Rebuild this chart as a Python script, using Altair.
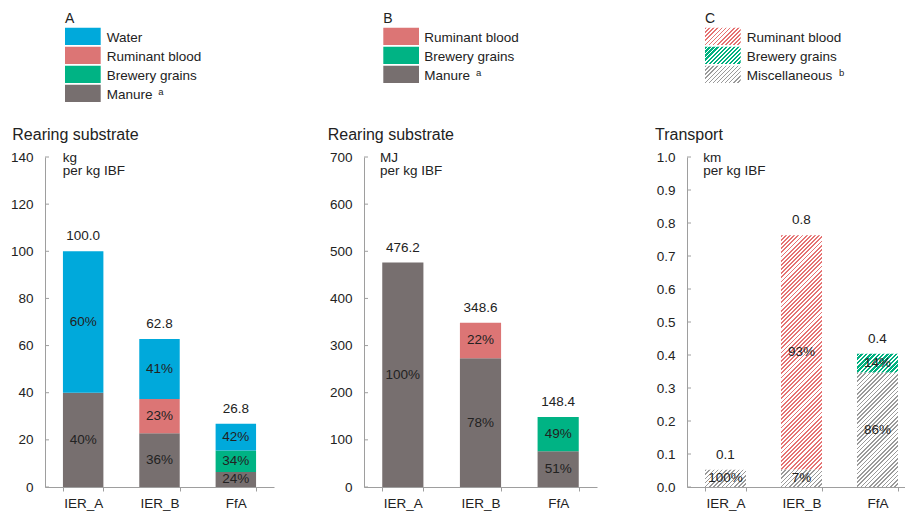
import altair as alt
import pandas as pd

# ---- data -------------------------------------------------------------
systems = ["IER_A", "IER_B", "FfA"]

# A: rearing substrate, kg per kg IBF (stack order bottom -> top)
a_manure = [40.0, 22.8, 6.4]
a_blood = [0.0, 14.5, 0.0]
a_grains = [0.0, 0.0, 9.1]
a_water = [60.0, 25.5, 11.3]
a_ticks = [0, 20, 40, 60, 80, 100, 120, 140]

# B: rearing substrate, MJ per kg IBF
b_manure = [476.2, 273.0, 75.7]
b_blood = [0.0, 75.6, 0.0]
b_grains = [0.0, 0.0, 72.7]
b_ticks = [0, 100, 200, 300, 400, 500, 600, 700]

# C: transport, km per kg IBF
c_misc = [0.052, 0.053, 0.347]
c_blood = [0.0, 0.710, 0.0]
c_grains = [0.0, 0.0, 0.057]
c_ticks = [0.0, 0.1, 0.2, 0.3, 0.4, 0.5, 0.6, 0.7, 0.8, 0.9, 1.0]

legend_a = ["Water", "Ruminant blood", "Brewery grains", "Manure"]
legend_b = ["Ruminant blood", "Brewery grains", "Manure"]
legend_c = ["Ruminant blood", "Brewery grains", "Miscellaneous"]

# ---- style ------------------------------------------------------------
FONT = "Liberation Sans"
INK = "#222222"
AXIS_GREY = "#9E9E9E"
SOLID = {"Water": "#00A9DB", "Ruminant blood": "#DC7575",
         "Brewery grains": "#00B384", "Manure": "#776F6F"}
HATCH = {"Ruminant blood": ("#E57373", 0.45), "Brewery grains": ("#00B07F", 0.6),
         "Miscellaneous": ("#9A9A9A", 0.36)}
PLOT_H = 330
SW_W, SW_H, ROW_STEP, LEG_TOP = 35.7, 17.3, 19.0, -129.3


def stack_frame(series):
    rows = []
    for i, s in enumerate(systems):
        total = sum(vals[i] for _, vals in series)
        base = 0.0
        for comp, vals in series:
            v = vals[i]
            if v <= 0:
                continue
            rows.append(dict(system=s, component=comp, value=v, y0=base, y1=base + v,
                             mid=base + v / 2, total=total,
                             pct=f"{round(100 * v / total)}%"))
            base += v
    return pd.DataFrame(rows)


def totals_frame(df):
    return df.groupby("system", sort=False, as_index=False)["total"].first()


def hatch(color, frac, w, h, period=4.2):
    """Diagonal '/' stripes as a hard-stop linear gradient in bbox units."""
    k = (w + h) / (w * w + h * h)
    n = max(1, int(round((w + h) / period)))
    stops = []
    for i in range(n):
        a, b, c = i / n, (i + frac) / n, (i + 1) / n
        stops += [{"offset": round(a, 5), "color": color},
                  {"offset": round(b, 5), "color": color},
                  {"offset": round(b, 5), "color": "#ffffff"},
                  {"offset": round(c, 5), "color": "#ffffff"}]
    return {"gradient": "linear", "x1": 0, "y1": 0,
            "x2": round(w * k, 5), "y2": round(h * k, 5), "stops": stops}


def text_layer(txt, x, y, size, **kw):
    return alt.Chart(pd.DataFrame({"t": [txt]})).mark_text(
        align="left", baseline="alphabetic", fontSize=size, color=INK, font=FONT, **kw
    ).encode(x=alt.value(x), y=alt.value(y), text="t:N")


def panel(df, ymax, ticks, yfmt, width, xscale, title, unit, letter, items,
          hatched, sx, tx, title_x, unit_x, sup, anchor=False):
    ys = alt.Scale(domain=[0, ymax], nice=False, zero=True)
    yaxis = alt.Axis(values=ticks, format=yfmt, title=None, grid=False, ticks=False,
                     labelPadding=12, domainColor=AXIS_GREY, labelFontSize=13.5,
                     labelColor=INK, labelFont=FONT)
    xaxis = alt.Axis(title=None, labelAngle=0, tickBand="extent", tickSize=4,
                     labelPadding=5, domainColor=AXIS_GREY, tickColor=AXIS_GREY,
                     labelFontSize=13.5, labelColor=INK, labelFont=FONT)
    X = alt.X("system:N", sort=systems, scale=xscale, axis=xaxis)
    base = alt.Chart(df)
    layers = []

    if hatched:
        step = width / (3 - xscale.paddingInner + 2 * xscale.paddingOuter)
        bw = step * (1 - xscale.paddingInner)
        for _, r in df.iterrows():
            col, frac = HATCH[r["component"]]
            h = r["value"] / ymax * PLOT_H
            layers.append(
                base.transform_filter(
                    f"datum.system == '{r['system']}' && datum.component == '{r['component']}'"
                ).mark_bar(fill=hatch(col, frac, bw, h), strokeWidth=0).encode(
                    x=X, y=alt.Y("y0:Q", scale=ys, axis=yaxis), y2="y1:Q")
            )
    else:
        layers.append(
            base.mark_bar(strokeWidth=0).encode(
                x=X, y=alt.Y("y0:Q", scale=ys, axis=yaxis), y2="y1:Q",
                color=alt.Color("component:N", legend=None,
                                scale=alt.Scale(domain=list(SOLID), range=list(SOLID.values()))))
        )

    # share labels inside each segment
    layers.append(base.mark_text(fontSize=13.5, color=INK, font=FONT, baseline="middle").encode(
        x=X, y=alt.Y("mid:Q", scale=ys, axis=yaxis), text="pct:N"))
    # totals above each bar
    layers.append(alt.Chart(totals_frame(df)).mark_text(
        fontSize=13.5, color=INK, font=FONT, baseline="middle", dy=-15).encode(
        x=X, y=alt.Y("total:Q", scale=ys, axis=yaxis), text=alt.Text("total:Q", format=".1f")))
    # inward y ticks
    layers.append(alt.Chart(pd.DataFrame({"tick": ticks})).mark_rule(
        color=AXIS_GREY, strokeWidth=1).encode(
        x=alt.value(0), x2=alt.value(4), y=alt.Y("tick:Q", scale=ys, axis=yaxis)))

    # headings
    layers.append(text_layer(title, title_x, -17, 16))
    layers.append(text_layer(unit, unit_x, 4.5, 13.5))
    layers.append(text_layer("per kg IBF", unit_x, 18, 13.5))
    layers.append(text_layer(letter, sx, -133.7, 14))

    # legend rows
    for i, name in enumerate(items):
        top = LEG_TOP + i * ROW_STEP
        if hatched:
            col, frac = HATCH[name]
            fill = hatch(col, frac, SW_W, SW_H)
        else:
            fill = SOLID[name]
        layers.append(alt.Chart(pd.DataFrame({"t": [name]})).mark_rect(fill=fill).encode(
            x=alt.value(sx), x2=alt.value(sx + SW_W), y=alt.value(top), y2=alt.value(top + SW_H)))
        layers.append(text_layer(name, tx, top + 14, 13.5))
        if name in sup:
            off, mark = sup[name]
            layers.append(text_layer(mark, tx + off, top + 10.5, 9.5))

    if anchor:
        layers.append(alt.Chart(pd.DataFrame({"t": [0]})).mark_rect(opacity=0).encode(
            x=alt.value(-45), x2=alt.value(-44), y=alt.value(-157), y2=alt.value(-156)))

    return alt.layer(*layers).properties(width=width, height=PLOT_H)


df_a = stack_frame([("Manure", a_manure), ("Brewery grains", a_grains),
                    ("Ruminant blood", a_blood), ("Water", a_water)])
df_b = stack_frame([("Manure", b_manure), ("Brewery grains", b_grains),
                    ("Ruminant blood", b_blood)])
df_c = stack_frame([("Miscellaneous", c_misc), ("Brewery grains", c_grains),
                    ("Ruminant blood", c_blood)])

xs_ab = alt.Scale(domain=systems, paddingInner=0.47, paddingOuter=0.235)
xs_c = alt.Scale(domain=systems, paddingInner=0.4605, paddingOuter=0.1645, align=0.72)

pa = panel(df_a, 140, a_ticks, "d", 229, xs_ab, "Rearing substrate", "kg", "A", legend_a,
           False, 20, 61.7, -32.7, 17.7, {"Manure": (51.6, "a")}, anchor=True)
pb = panel(df_b, 700, b_ticks, "d", 233, xs_ab, "Rearing substrate", "MJ", "B", legend_b,
           False, 19.3, 60.3, -36.3, 16, {"Manure": (51.6, "a")})
pc = panel(df_c, 1.0, c_ticks, ".1f", 218, xs_c, "Transport", "km", "C", legend_c,
           True, 18, 59.7, -32, 16.3, {"Miscellaneous": (92.3, "b")})

chart = alt.hconcat(
    pa, pb, pc, spacing=90, bounds="flush",
    padding={"left": 0, "top": 0, "right": 0, "bottom": 4},
).configure(font=FONT).configure_view(stroke=None)

chart.save("out.html", embed_options={"renderer": "svg", "actions": False})
